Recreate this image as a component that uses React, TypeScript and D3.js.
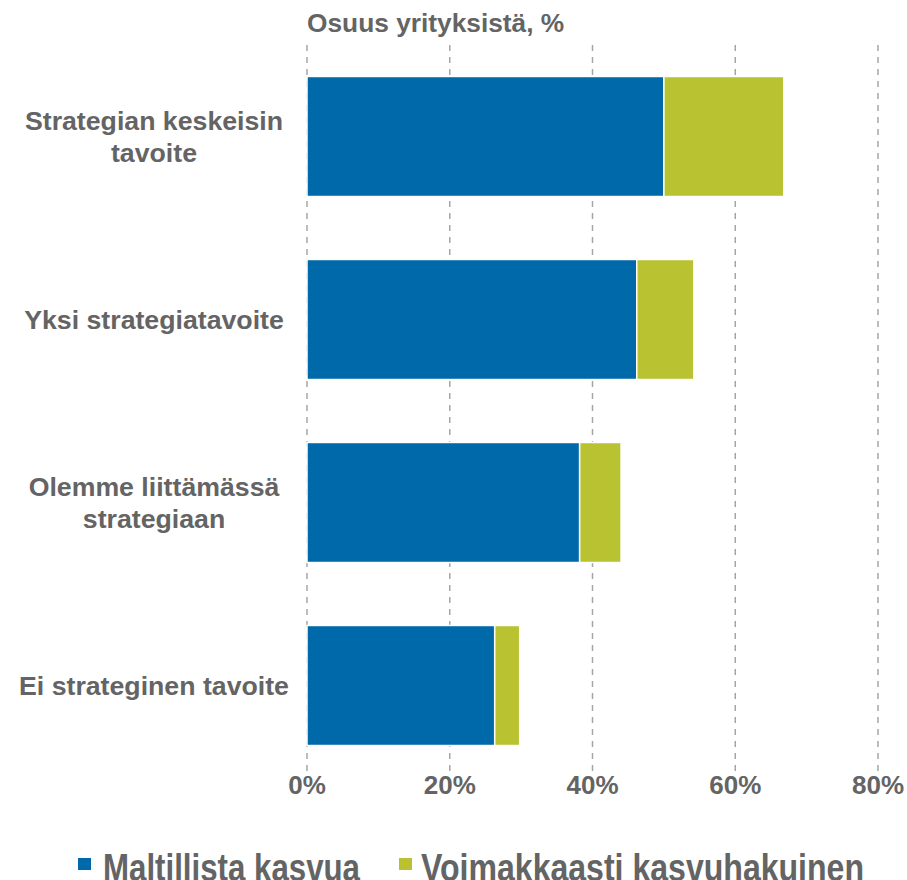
import React from "react";
import * as d3 from "d3";

const categories: string[][] = [
  ["Strategian keskeisin", "tavoite"],
  ["Yksi strategiatavoite"],
  ["Olemme liittämässä", "strategiaan"],
  ["Ei strateginen tavoite"],
];
const seriesNames = ["Maltillista kasvua", "Voimakkaasti kasvuhakuinen"];
const moderate = [50.0, 46.2, 38.2, 26.3];
const strong = [16.8, 8.0, 5.8, 3.5];
const ticks = [0, 20, 40, 60, 80];
const colors = ["#0069AA", "#B9C332"];
const title = "Osuus yrityksistä, %";

const W = 907;
const H = 880;
const left = 307;
const right = 878;
const top = 45;
const bottom = 777;
const textColor = "#646464";
const font = "'Liberation Sans', Arial, Helvetica, sans-serif";

export default function App() {
  const x = d3.scaleLinear().domain([0, 80]).range([left, right]);
  const keys = categories.map((_, i) => String(i));
  const y = d3
    .scaleBand<string>()
    .domain(keys)
    .range([top, bottom])
    .paddingInner(0.344)
    .paddingOuter(0.172);

  const stackData = keys.map((k, i) => ({ key: k, a: moderate[i], b: strong[i] }));
  const stacked = d3.stack<any>().keys(["a", "b"])(stackData);

  const legendFont =
    "'Liberation Sans Narrow', 'Arial Narrow', 'Liberation Sans', Arial, sans-serif";

  return (
    <svg
      width={W}
      height={H}
      style={{ position: "absolute", left: 0, top: 0, background: "#fff" }}
      fontFamily={font}
    >
      <rect x={0} y={0} width={W} height={H} fill="#fff" />
      {ticks.map((t) => (
        <line
          key={t}
          x1={x(t)}
          x2={x(t)}
          y1={top}
          y2={bottom}
          stroke="#A6A6A6"
          strokeWidth={1.5}
          strokeDasharray="6,6"
        />
      ))}
      {stacked.map((s, si) =>
        s.map((d, i) => (
          <rect
            key={`${si}-${i}`}
            x={x(d[0])}
            y={y(keys[i])!}
            width={x(d[1]) - x(d[0])}
            height={y.bandwidth()}
            fill={colors[si]}
            stroke="#fff"
            strokeWidth={1.5}
          />
        ))
      )}
      {categories.map((lines, i) => {
        const cy = y(keys[i])! + y.bandwidth() / 2;
        const lh = 32;
        const start = cy - ((lines.length - 1) * lh) / 2;
        return (
          <text
            key={i}
            textAnchor="middle"
            fontSize={26.7}
            fontWeight="bold"
            fill={textColor}
          >
            {lines.map((l, j) => (
              <tspan key={j} x={154} y={start + j * lh} dy="0.35em">
                {l}
              </tspan>
            ))}
          </text>
        );
      })}
      {ticks.map((t) => (
        <text
          key={t}
          x={x(t)}
          y={794}
          textAnchor="middle"
          fontSize={26}
          fontWeight="bold"
          fill={textColor}
        >
          {`${t}%`}
        </text>
      ))}
      <text x={left} y={32} fontSize={26.3} fontWeight="bold" fill={textColor}>
        {title}
      </text>
      <rect x={78} y={858} width={13} height={12} fill={colors[0]} />
      <text
        x={103}
        y={881}
        fontSize={38}
        fontWeight="bold"
        fill={textColor}
        textLength={257}
        lengthAdjust="spacingAndGlyphs"
        fontFamily={legendFont}
      >
        {seriesNames[0]}
      </text>
      <rect x={399} y={858} width={13} height={12} fill={colors[1]} />
      <text
        x={421}
        y={881}
        fontSize={38}
        fontWeight="bold"
        fill={textColor}
        textLength={443}
        lengthAdjust="spacingAndGlyphs"
        fontFamily={legendFont}
      >
        {seriesNames[1]}
      </text>
    </svg>
  );
}
